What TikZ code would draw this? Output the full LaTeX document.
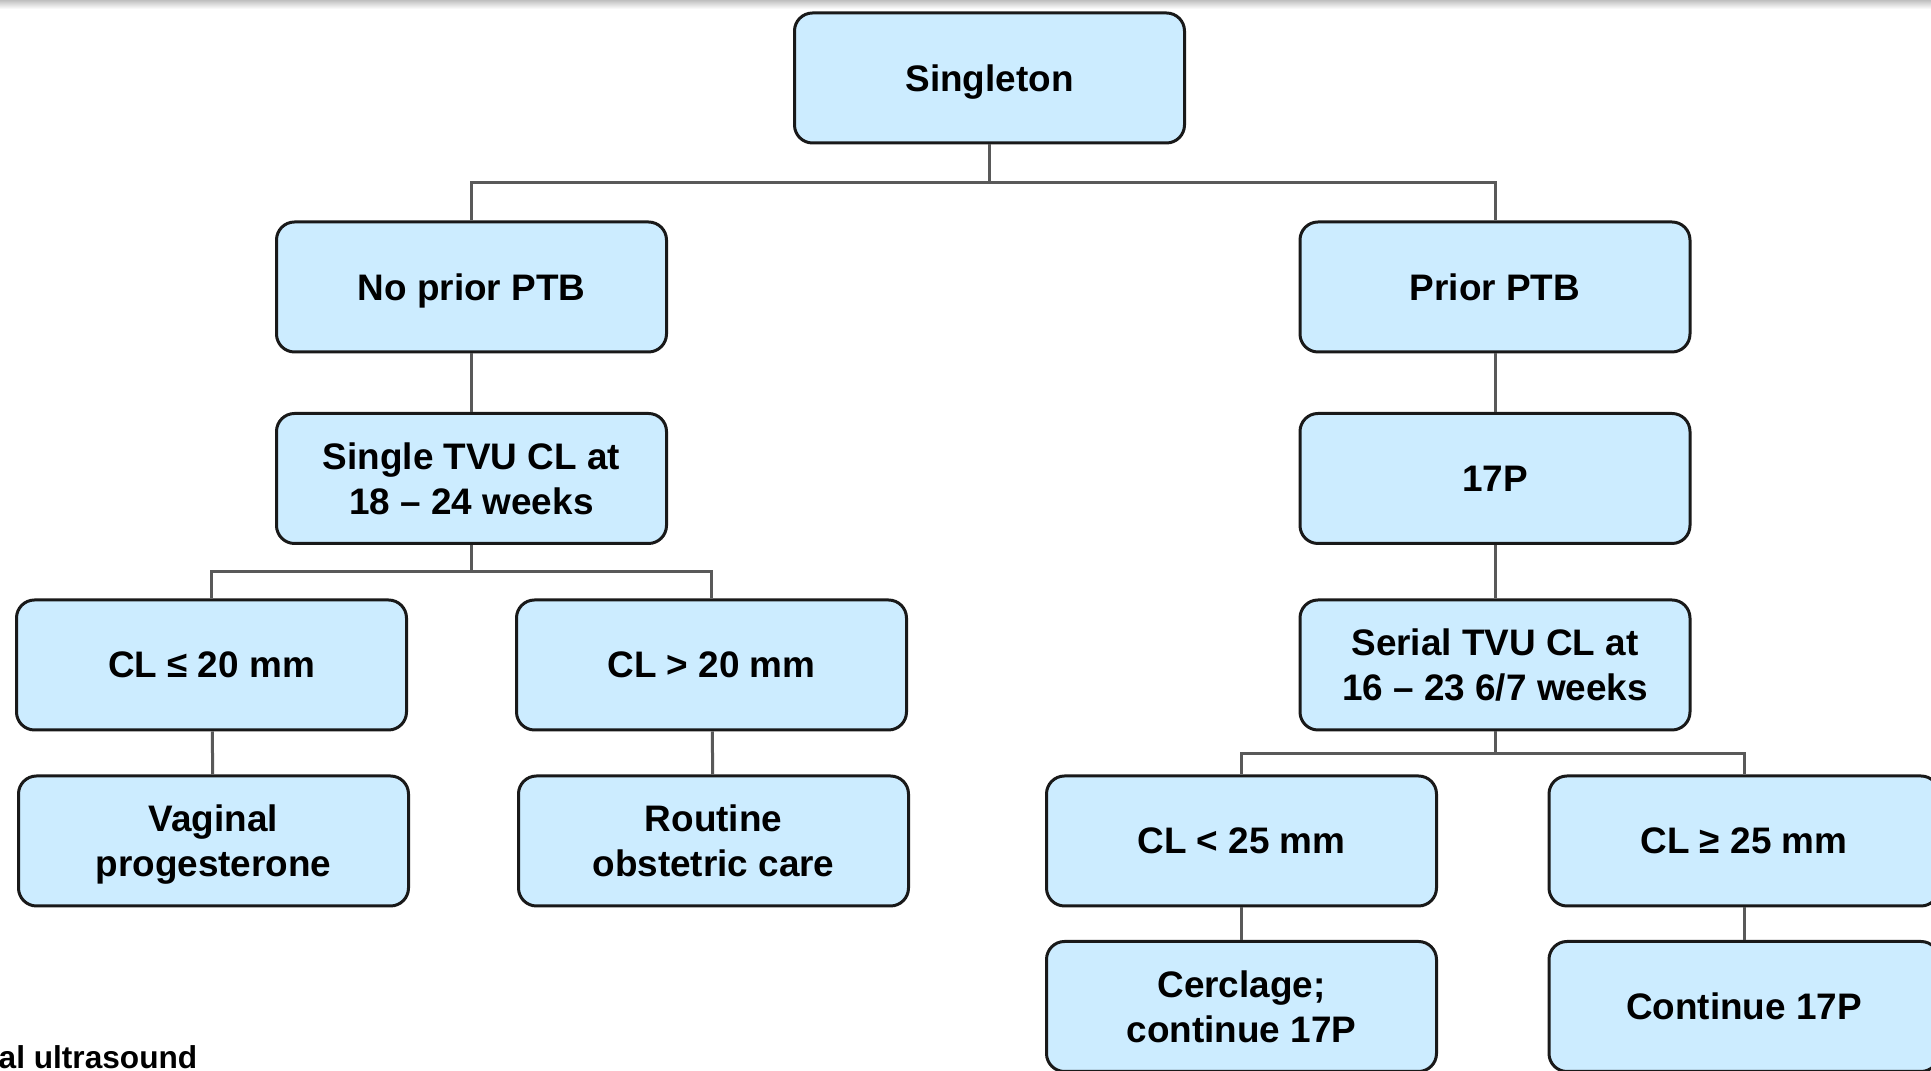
\documentclass[tikz,border=0pt]{standalone}
\usepackage{fontspec}
\setmainfont{Liberation Sans}
\definecolor{boxblue}{RGB}{204,236,255}
\tikzset{
	box/.style={draw=black!90, line width=0.3mm, fill=boxblue, rounded corners=1.8mm, minimum width=39mm, minimum height=13mm, inner sep=0pt, text depth=0pt, align=center, font=\fontsize{10.5}{12.8}\selectfont\bfseries},
	link/.style={draw=black!65, line width=0.3mm}
}

\begin{document}
\begin{tikzpicture}[x=0.1mm, y=-0.1mm]
		%%%%% START %%%%%
		\useasboundingbox (0, 0) rectangle (1931, 1071);
		\clip (0, 0) rectangle (1931, 1071);
		
		\shade[top color=black!25, bottom color=white] (0, 0) rectangle (1931, 9);
		
		\node[box] (sing) at (989.5, 78) {Singleton};
		
		\node[box] (noprior) at (471.5, 287) {No prior PTB};
		\node[box] (single) at (471.5, 478.5) {Single TVU CL at\\18 -- 24 weeks};
		\node[box] (le20) at (211.5, 665) {CL ≤ 20 mm};
		\node[box] (gt20) at (711.5, 665) {CL > 20 mm};
		\node[box] (vag) at (213.5, 841) {Vaginal\\progesterone};
		\node[box] (rout) at (713.5, 841) {Routine\\obstetric care};
		
		\node[box] (prior) at (1495, 287) {Prior PTB};
		\node[box] (p17) at (1495, 478.5) {17P};
		\node[box] (serial) at (1495, 665) {Serial TVU CL at\\16 -- 23 6/7 weeks};
		\node[box] (lt25) at (1241.5, 841) {CL < 25 mm};
		\node[box] (ge25) at (1744, 841) {CL ≥ 25 mm};
		\node[box] (cerc) at (1241.5, 1006.5) {Cerclage;\\continue 17P};
		\node[box] (cont) at (1744, 1006.5) {Continue 17P};
		
		% branches
		\draw[link] (sing.south) -- ++(0, 38) -| (noprior.north);
		\draw[link] (sing.south) -- ++(0, 38) -| (prior.north);
		\draw[link] (single.south) -- ++(0, 27) -| (le20.north);
		\draw[link] (single.south) -- ++(0, 27) -| (gt20.north);
		\draw[link] (serial.south) -- ++(0, 22) -| (lt25.north);
		\draw[link] (serial.south) -- ++(0, 22) -| (ge25.north);
		
		% straight links
		\draw[link] (noprior) -- (single);
		\draw[link] (le20) -- (vag);
		\draw[link] (gt20) -- (rout);
		\draw[link] (prior) -- (p17);
		\draw[link] (p17) -- (serial);
		\draw[link] (lt25) -- (cerc);
		\draw[link] (ge25) -- (cont);
		
		\node[anchor=base west, inner sep=0pt, font=\fontsize{9}{11}\selectfont\bfseries] (foot) at (-2, 1069) {al ultrasound};
		
		%%%%% END %%%%%
	\end{tikzpicture}
\end{document}
